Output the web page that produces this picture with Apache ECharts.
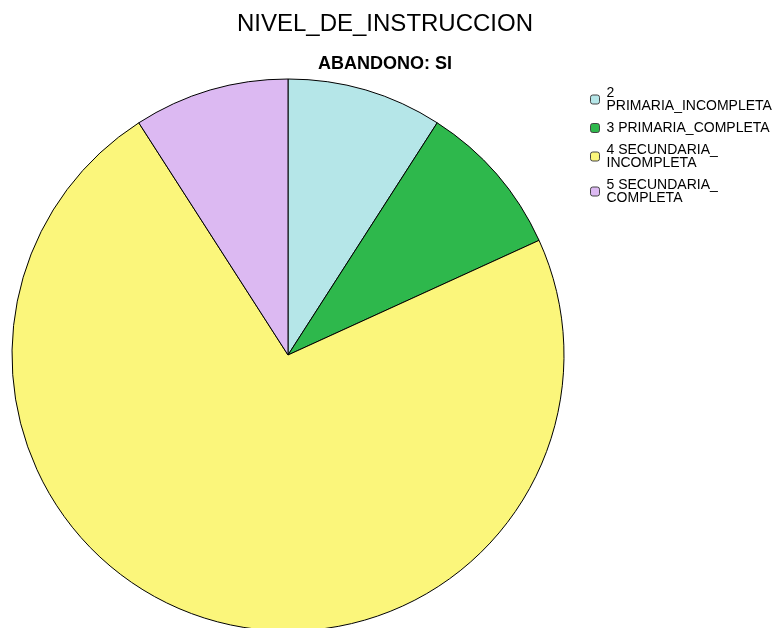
<!DOCTYPE html>
<html>
<head>
<meta charset="utf-8">
<script src="https://cdn.jsdelivr.net/npm/echarts@6/dist/echarts.min.js"></script>
<style>
  html, body { margin: 0; padding: 0; background: #fff; }
  #chart { width: 781px; height: 628px; }
</style>
</head>
<body>
<div id="chart"></div>
<script>
// Counts (1/11, 1/11, 8/11, 1/11)
const categories = [
  '2\nPRIMARIA_INCOMPLETA',
  '3 PRIMARIA_COMPLETA',
  '4 SECUNDARIA_\nINCOMPLETA',
  '5 SECUNDARIA_\nCOMPLETA'
]
const counts = [1, 1, 8, 1]
const colors = ['#b5e6e8', '#2eb84c', '#fbf67b', '#dcb9f2']

const chart = echarts.init(document.getElementById('chart'))

chart.setOption({
  animation: false,
  backgroundColor: '#fff',
  title: {
    text: 'NIVEL_DE_INSTRUCCION',
    subtext: 'ABANDONO: SI',
    left: 385,
    textAlign: 'center',
    top: 12,
    itemGap: 19,
    padding: 0,
    textStyle: {
      fontFamily: 'Liberation Sans',
      fontSize: 24,
      fontWeight: 'normal',
      color: '#000'
    },
    subtextStyle: {
      fontFamily: 'Liberation Sans',
      fontSize: 18,
      fontWeight: 'bold',
      color: '#000'
    }
  },
  legend: {
    orient: 'vertical',
    left: 590,
    top: 86,
    padding: 0,
    itemWidth: 9,
    itemHeight: 9,
    itemGap: 8,
    icon: 'roundRect',
    selectedMode: false,
    textStyle: {
      fontFamily: 'Liberation Sans',
      fontSize: 14,
      lineHeight: 13,
      color: '#000',
      padding: [0, 0, 0, 2]
    },
    itemStyle: { borderColor: '#444', borderWidth: 1 },
    data: categories
  },
  series: [{
    type: 'pie',
    center: [288, 355],
    radius: 276,
    startAngle: 90,
    clockwise: true,
    label: { show: false },
    labelLine: { show: false },
    emphasis: { disabled: true },
    itemStyle: { borderColor: '#000', borderWidth: 1 },
    data: categories.map((name, i) => ({
      name: name,
      value: counts[i],
      itemStyle: { color: colors[i] }
    }))
  }]
})
</script>
</body>
</html>
